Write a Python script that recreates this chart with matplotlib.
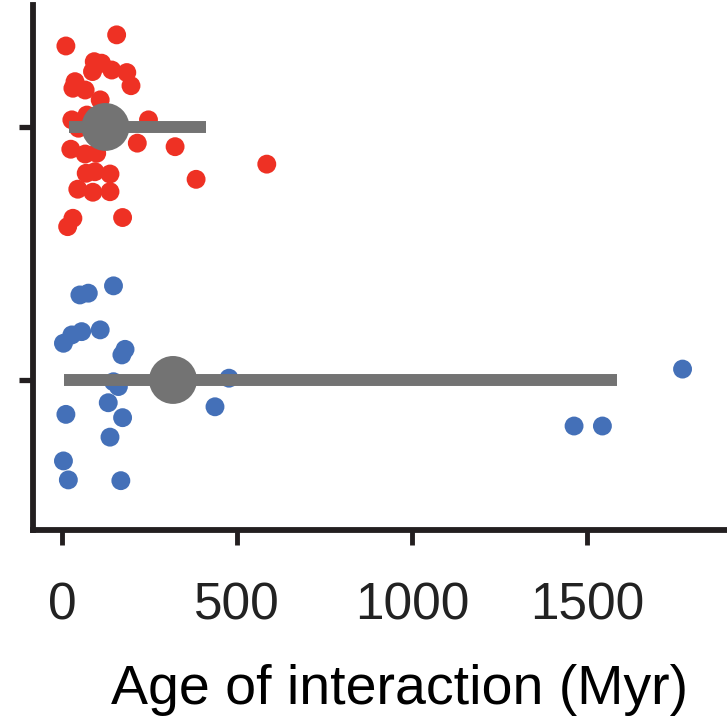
import matplotlib
matplotlib.use("Agg")
import matplotlib.pyplot as plt
import numpy as np

plt.rcParams['font.family'] = ['Liberation Sans', 'DejaVu Sans']

categories = ["Red group", "Blue group"]

red_age = [156, 11, 92, 113, 87, 142, 185, 37, 31, 66, 197, 109, 28, 71, 247, 47,
           215, 323, 25, 66, 99, 585, 383, 69, 94, 137, 45, 88, 137, 31, 16, 173]
red_jitter = [-0.364, -0.32, -0.258, -0.252, -0.219, -0.225, -0.215, -0.179, -0.153,
              -0.146, -0.163, -0.107, -0.028, -0.047, -0.028, 0.005, 0.064, 0.078,
              0.088, 0.107, 0.104, 0.147, 0.207, 0.183, 0.177, 0.186, 0.246, 0.258,
              0.256, 0.361, 0.394, 0.358]

blue_age = [147, 51, 75, 28, 4, 56, 109, 180, 171, 147, 161, 477, 132, 437, 11, 173,
            137, 4, 18, 168, 1773, 1463, 1544]
blue_jitter = [-0.372, -0.336, -0.343, -0.178, -0.145, -0.191, -0.198, -0.121, -0.099,
               0.007, 0.026, -0.007, 0.09, 0.106, 0.136, 0.149, 0.226, 0.32, 0.395,
               0.398, -0.043, 0.182, 0.182]

summary_mean = [124, 317]
summary_low = [21, 6]
summary_high = [411, 1586]

xticks = [0, 500, 1000, 1500]

RED = "#EE3124"
BLUE = "#4470B8"
GREY = "#737373"
AXC = "#231F20"

fig = plt.figure(figsize=(7.27, 7.16), dpi=100)
ax = fig.add_axes([33/727, (716-530)/716, 1 - 33/727, (530-5)/716])

ax.scatter(red_age, np.array(red_jitter) + 0, s=185, color=RED, edgecolors='none', zorder=2)
ax.scatter(blue_age, np.array(blue_jitter) + 1, s=185, color=BLUE, edgecolors='none', zorder=2)

for i in range(len(categories)):
    ax.hlines(i, summary_low[i], summary_high[i], color=GREY, linewidth=8.6, zorder=3)
    ax.scatter([summary_mean[i]], [i], s=1190, color=GREY, edgecolors='none', zorder=4)

ax.set_xlim(-83, 1900)
ax.set_ylim(1.593, -0.482)

ax.set_yticks([0, 1])
ax.set_yticklabels([])
ax.set_xticks(xticks)
ax.set_xticklabels([str(t) for t in xticks], fontsize=37, color="#222222")

for s in ["top", "right"]:
    ax.spines[s].set_visible(False)
for s in ["left", "bottom"]:
    ax.spines[s].set_linewidth(4.2)
    ax.spines[s].set_color(AXC)

ax.tick_params(axis='x', length=11, width=3.5, color=AXC, pad=26)
ax.tick_params(axis='y', length=10, width=3.8, color=AXC)

ax.set_xlabel("Age of interaction (Myr)", fontsize=40, color="black")
ax.xaxis.set_label_coords((400-33)/694, -(690-530)/525, transform=ax.transAxes)
ax.xaxis.label.set_verticalalignment('center')

fig.savefig("out.png", dpi=100)
